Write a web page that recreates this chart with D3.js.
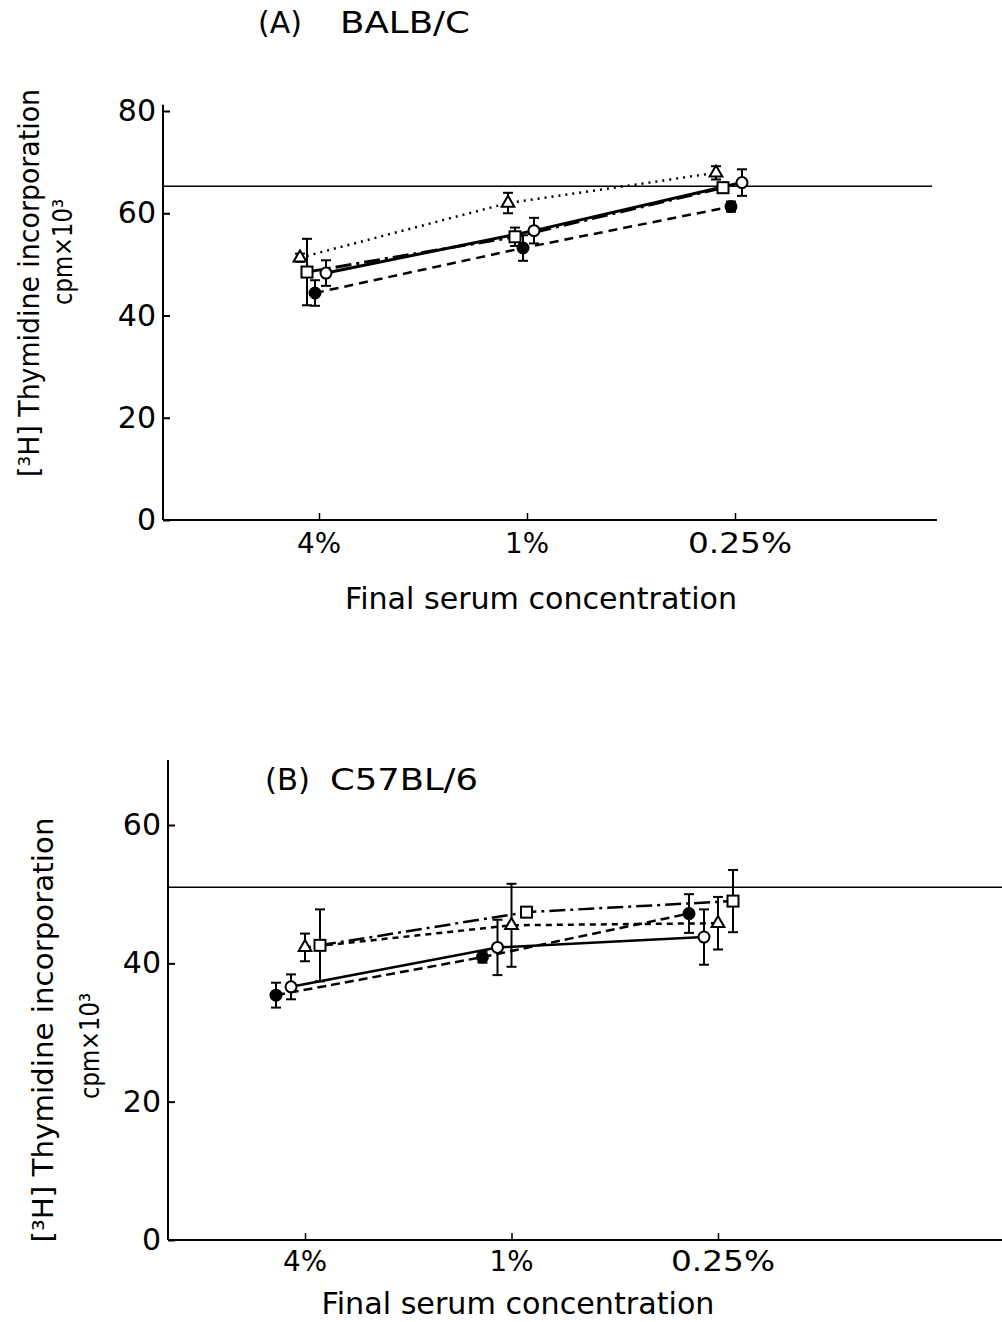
<!DOCTYPE html>
<html>
<head>
<meta charset="utf-8">
<script src="https://cdn.jsdelivr.net/npm/d3@7"></script>
<style>
  body { margin: 0; background: #fff; }
  text { font-family: "DejaVu Sans", "Liberation Sans", sans-serif; fill: #000; }
</style>
</head>
<body>
<div id="root"></div>
<script>
const categories = ["4%", "1%", "0.25%"];

// Panel A: BALB/C
const openCircleA = [48.3, 56.6, 66.0];
const openCircleErrA = [2.5, 2.5, 2.6];
const filledCircleA = [44.4, 53.2, 61.3];
const filledCircleErrA = [2.5, 2.5, 1.0];
const squareA = [48.5, 55.4, 65.0];
const squareErrA = [6.5, 1.8, 1.0];
const triangleA = [51.3, 62.0, 67.9];
const triangleErrA = [0.8, 2.0, 1.3];
const controlA = 65.3;

// Panel B: C57BL/6
const openCircleB = [36.6, 42.3, 43.8];
const openCircleErrB = [1.8, 4.0, 4.0];
const filledCircleB = [35.4, 40.9, 47.2];
const filledCircleErrB = [1.8, 0.8, 2.8];
const squareB = [42.6, 47.4, 49.0];
const squareErrB = [5.2, 0.6, 4.5];
const triangleB = [42.3, 45.5, 45.8];
const triangleErrB = [2.0, 6.0, 3.8];
const controlB = 51;

const yTicksA = [0, 20, 40, 60, 80];
const yTicksB = [0, 20, 40, 60];

const width = 1002;
const height = 1322;

const svg = d3.select("#root")
  .append("svg")
  .attr("width", width)
  .attr("height", height);

const panels = [
  {
    tag: "(A)", tagX: 258, tagLen: 44, name: "BALB/C", nameX: 340, nameLen: 130, titleY: 33,
    axisX: 163, axisEnd: 937, yTop: 81.2,
    x: d3.scalePoint().domain(categories).range([319, 735]),
    y: d3.scaleLinear().domain([0, 80]).range([520, 111]),
    ticks: yTicksA, control: controlA, controlEnd: 932,
    tickLabelY: 553, xTitleX: 541, xTitleY: 609, xTitleLen: 392,
    yTitle1: [39, 283, 388], yTitle2: [72, 252, 106],
    series: [
      { values: triangleA, err: triangleErrA, shape: "triangle", dash: "2,5", width: 2.5, dx: -19 },
      { values: squareA, err: squareErrA, shape: "square", dash: "16,5,3,5", width: 3, dx: -12 },
      { values: filledCircleA, err: filledCircleErrA, shape: "filled", dash: "9,6", width: 2.5, dx: -4 },
      { values: openCircleA, err: openCircleErrA, shape: "open", dash: null, width: 3, dx: 7 },
    ],
  },
  {
    tag: "(B)", tagX: 265, tagLen: 45, name: "C57BL/6", nameX: 330, nameLen: 148, titleY: 790,
    axisX: 168, axisEnd: 1002, yTop: 69.4,
    x: d3.scalePoint().domain(categories).range([305, 718]),
    y: d3.scaleLinear().domain([0, 60]).range([1240, 825]),
    ticks: yTicksB, control: controlB, controlEnd: 1002,
    tickLabelY: 1271, xTitleX: 518, xTitleY: 1314, xTitleLen: 393,
    yTitle1: [53, 1030, 425], yTitle2: [99, 1046, 106],
    series: [
      { values: filledCircleB, err: filledCircleErrB, shape: "filled", dash: "9,5", width: 2.5, dx: -29 },
      { values: openCircleB, err: openCircleErrB, shape: "open", dash: null, width: 2.5, dx: -14 },
      { values: triangleB, err: triangleErrB, shape: "triangle", dash: "6,5", width: 2.5, dx: 0 },
      { values: squareB, err: squareErrB, shape: "square", dash: "16,5,3,5", width: 2.5, dx: 15 },
    ],
  },
];

const labelLen = { "4%": 44, "1%": 44, "0.25%": 104 };

panels.forEach((p) => {
  const g = svg.append("g");
  const x0 = p.y(0);

  // axes
  g.append("line")
    .attr("x1", p.axisX).attr("x2", p.axisX)
    .attr("y1", x0).attr("y2", p.y(p.yTop))
    .attr("stroke", "#000").attr("stroke-width", 2);
  g.append("line")
    .attr("x1", p.axisX).attr("x2", p.axisEnd)
    .attr("y1", x0).attr("y2", x0)
    .attr("stroke", "#000").attr("stroke-width", 2);

  const yAxis = g.append("g")
    .attr("transform", `translate(${p.axisX},0)`)
    .call(d3.axisLeft(p.y).tickValues(p.ticks).tickSize(-7).tickPadding(7).tickSizeOuter(0));
  yAxis.select(".domain").remove();
  yAxis.selectAll("line").attr("stroke-width", 2);
  yAxis.selectAll("text")
    .attr("font-size", 30)
    .style("font-family", '"DejaVu Sans", sans-serif');

  const xAxis = g.append("g")
    .attr("transform", `translate(0,${x0})`)
    .call(d3.axisBottom(p.x).tickSize(-7).tickSizeOuter(0).tickFormat(""));
  xAxis.select(".domain").remove();
  xAxis.selectAll("line").attr("stroke-width", 1.5);

  g.selectAll(".xlab")
    .data(categories)
    .enter()
    .append("text")
    .attr("x", (c) => p.x(c) + (c === "0.25%" ? 5 : 0))
    .attr("y", p.tickLabelY)
    .attr("text-anchor", "middle")
    .attr("font-size", 28)
    .attr("textLength", (c) => labelLen[c])
    .attr("lengthAdjust", "spacingAndGlyphs")
    .text((c) => c);

  // titles
  g.append("text")
    .attr("x", p.tagX).attr("y", p.titleY)
    .attr("font-size", 30)
    .attr("textLength", p.tagLen).attr("lengthAdjust", "spacingAndGlyphs")
    .text(p.tag);
  g.append("text")
    .attr("x", p.nameX).attr("y", p.titleY)
    .attr("font-size", 30)
    .attr("textLength", p.nameLen).attr("lengthAdjust", "spacingAndGlyphs")
    .text(p.name);
  g.append("text")
    .attr("x", p.xTitleX).attr("y", p.xTitleY)
    .attr("text-anchor", "middle")
    .attr("font-size", 30)
    .attr("textLength", p.xTitleLen).attr("lengthAdjust", "spacingAndGlyphs")
    .text("Final serum concentration");
  g.append("text")
    .attr("transform", `translate(${p.yTitle1[0]},${p.yTitle1[1]}) rotate(-90)`)
    .attr("text-anchor", "middle")
    .attr("font-size", 28)
    .attr("textLength", p.yTitle1[2]).attr("lengthAdjust", "spacingAndGlyphs")
    .text("[³H] Thymidine incorporation");
  g.append("text")
    .attr("transform", `translate(${p.yTitle2[0]},${p.yTitle2[1]}) rotate(-90)`)
    .attr("text-anchor", "middle")
    .attr("font-size", 27)
    .attr("textLength", p.yTitle2[2]).attr("lengthAdjust", "spacingAndGlyphs")
    .text("cpm×10³");

  // control line
  g.append("line")
    .attr("x1", p.axisX).attr("x2", p.controlEnd)
    .attr("y1", p.y(p.control)).attr("y2", p.y(p.control))
    .attr("stroke", "#000").attr("stroke-width", 1.5);

  const px = (s, i) => p.x(categories[i]) + s.dx;

  // connecting lines
  p.series.forEach((s) => {
    const line = d3.line()
      .x((d, i) => px(s, i))
      .y((d) => p.y(d));
    g.append("path")
      .datum(s.values)
      .attr("d", line)
      .attr("fill", "none")
      .attr("stroke", "#000")
      .attr("stroke-width", s.width)
      .attr("stroke-dasharray", s.dash);
  });

  // error bars
  p.series.forEach((s) => {
    const eb = g.append("g");
    s.values.forEach((v, i) => {
      const cx = px(s, i);
      const top = p.y(v + s.err[i]);
      const bot = p.y(v - s.err[i]);
      eb.append("line").attr("x1", cx).attr("x2", cx).attr("y1", top).attr("y2", bot)
        .attr("stroke", "#000").attr("stroke-width", 2);
      [top, bot].forEach((yy) => {
        eb.append("line").attr("x1", cx - 5).attr("x2", cx + 5).attr("y1", yy).attr("y2", yy)
          .attr("stroke", "#000").attr("stroke-width", 2);
      });
    });
  });

  // markers
  p.series.forEach((s) => {
    s.values.forEach((v, i) => {
      const cx = px(s, i);
      const cy = p.y(v);
      if (s.shape === "open" || s.shape === "filled") {
        g.append("circle")
          .attr("cx", cx).attr("cy", cy).attr("r", 5.5)
          .attr("fill", s.shape === "filled" ? "#000" : "#fff")
          .attr("stroke", "#000").attr("stroke-width", 2);
      } else if (s.shape === "square") {
        g.append("rect")
          .attr("x", cx - 5.5).attr("y", cy - 5.5)
          .attr("width", 11).attr("height", 11)
          .attr("fill", "#fff").attr("stroke", "#000").attr("stroke-width", 2);
      } else {
        const sym = d3.symbol().type(d3.symbolTriangle).size(70);
        g.append("path")
          .attr("d", sym())
          .attr("transform", `translate(${cx},${cy})`)
          .attr("fill", "#fff").attr("stroke", "#000").attr("stroke-width", 2);
      }
    });
  });
});
</script>
</body>
</html>
